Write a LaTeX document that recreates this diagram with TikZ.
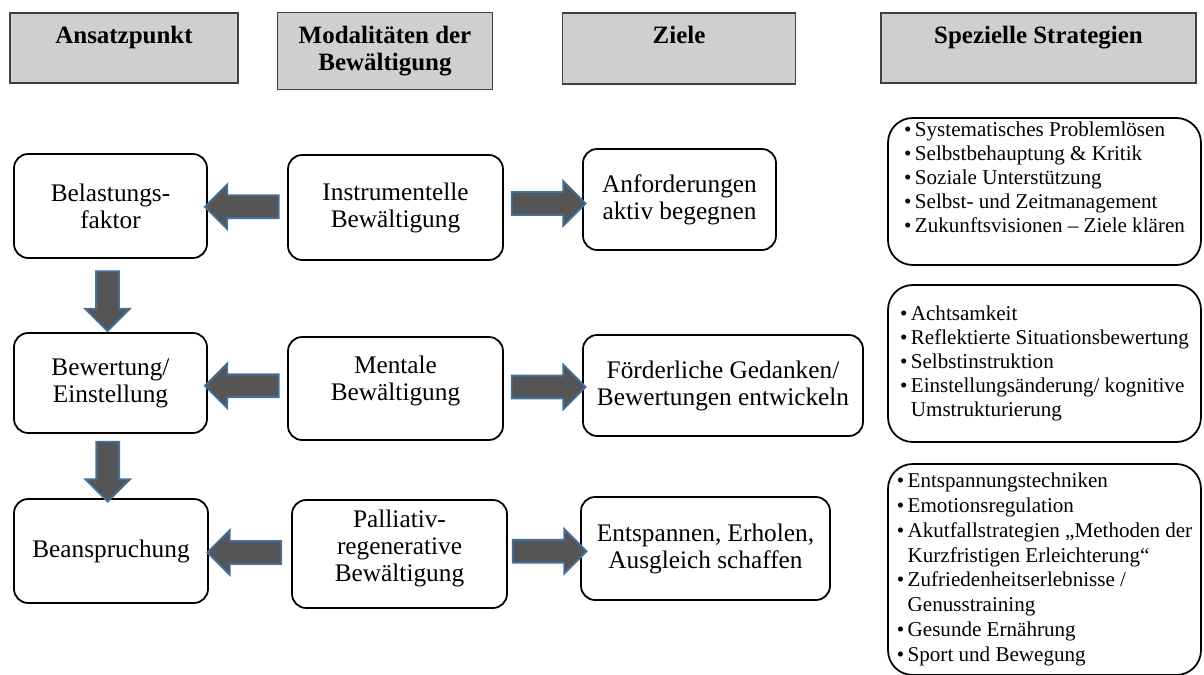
\documentclass[tikz,border=0pt]{standalone}
\usepackage{fontspec}
\setmainfont{Liberation Serif}
\usetikzlibrary{shapes.arrows,calc}
\definecolor{kopfgrau}{RGB}{208,206,206}
\definecolor{pfeilgrau}{RGB}{85,85,85}
\definecolor{pfeilblau}{RGB}{65,113,156}
\tikzset{
  kopf/.style={draw=black!75, line width=0.8pt, fill=kopfgrau, align=center, inner sep=0pt,
    font=\fontsize{14.2}{15.3}\selectfont\bfseries},
  kasten/.style={draw, line width=1pt, rounded corners=8pt, align=center, inner sep=0pt,
    font=\fontsize{14.4}{15.4}\selectfont},
  liste/.style={draw, line width=1pt, rounded corners=14pt, inner sep=0pt,
    font=\fontsize{12}{13.6}\selectfont},
  blockpfeil/.style={single arrow, fill=pfeilgrau, draw=pfeilblau, line width=1pt,
    inner xsep=0pt, inner ysep=0.21cm, single arrow head extend=0.22cm, minimum height=1.48cm},
}

\begin{document}
\begin{tikzpicture}[x=0.02cm, y=-0.02cm] % 1 Einheit = 1 Pixel
    \useasboundingbox (0,0) rectangle (1204,675);
    % Kopfzeile
    \node[kopf, minimum width=4.56cm, minimum height=1.4cm] (h1) at (124,48) {Ansatzpunkt\\~};
    \node[kopf, minimum width=4.3cm, minimum height=1.54cm] (h2) at (385,51) {Modalitäten der\\Bewältigung};
    \node[kopf, minimum width=4.66cm, minimum height=1.42cm] (h3) at (679,48.5) {Ziele\\~};
    \node[kopf, minimum width=6.3cm, minimum height=1.4cm] (h4) at (1038.5,48) {Spezielle Strategien\\~};
    % Ansatzpunkte
    \node[kasten, minimum width=3.86cm, minimum height=2.08cm] (bel) at (110.5,206) {Belastungs-\\faktor};
    \node[kasten, minimum width=3.86cm, minimum height=2.0cm] (bew) at (110.5,383) {Bewertung/\\Einstellung};
    \node[kasten, minimum width=3.88cm, minimum height=2.08cm] (bea) at (111,551) {Beanspruchung};
    % Modalitaeten
    \node[kasten, minimum width=4.3cm, minimum height=2.1cm] (ins) at (395.5,207.5) {Instrumentelle\\Bewältigung};
    \node[kasten, minimum width=4.3cm, minimum height=2.06cm] (men) at (395.5,388.5) {Mentale\\Bewältigung\\[-4pt]~};
    \node[kasten, minimum width=4.3cm, minimum height=2.16cm] (pal) at (399.5,554) {Palliativ-\\regenerative\\Bewältigung\\[-6.4pt]~};
    % Ziele
    \node[kasten, minimum width=3.86cm, minimum height=2.02cm] (anf) at (679.5,199.5) {Anforderungen\\aktiv begegnen};
    \node[kasten, minimum width=5.6cm, minimum height=2.02cm] (foe) at (723,385.5) {Förderliche Gedanken/\\Bewertungen entwickeln};
    \node[kasten, minimum width=4.98cm, minimum height=2.06cm] (ent) at (705.5,548.5) {Entspannen, Erholen,\\Ausgleich schaffen};
    % Strategien
    \node[liste, minimum width=6.26cm, minimum height=2.94cm] (s1) at (1044.5,191.5) {%
      \begin{tabular}{@{}l@{\,}l@{}}
        \textbullet & Systematisches Problemlösen\\
        \textbullet & Selbstbehauptung \& Kritik\\
        \textbullet & Soziale Unterstützung\\
        \textbullet & Selbst- und Zeitmanagement\\
        \textbullet & Zukunftsvisionen – Ziele klären\\
        &
      \end{tabular}};
    \node[liste, minimum width=6.26cm, minimum height=3.14cm] (s2) at (1044.5,363.5) {%
      \begin{tabular}{@{}l@{\,}l@{}}
        \textbullet & Achtsamkeit\\
        \textbullet & Reflektierte Situationsbewertung\\
        \textbullet & Selbstinstruktion\\
        \textbullet & Einstellungsänderung/ kognitive\\
        & Umstrukturierung
      \end{tabular}};
    \node[liste, minimum width=6.26cm, minimum height=4.22cm] (s3) at (1044.5,569.5) {%
      \fontsize{12}{14.2}\selectfont
      \begin{tabular}{@{}l@{\,}l@{}}
        \textbullet & Entspannungstechniken\\
        \textbullet & Emotionsregulation\\
        \textbullet & Akutfallstrategien „Methoden der\\
        & Kurzfristigen Erleichterung“\\
        \textbullet & Zufriedenheitserlebnisse /\\
        & Genusstraining\\
        \textbullet & Gesunde Ernährung\\
        \textbullet & Sport und Bewegung
      \end{tabular}};
    % Pfeile nach links
    \node[blockpfeil, rotate=180] (p1) at ($(bel.east)!.5!(ins.west)$) {};
    \node[blockpfeil, rotate=180] (p2) at ($(bew.east)!.5!(men.west)$) {};
    \node[blockpfeil, rotate=180] (p3) at ($(bea.east)!.5!(pal.west)$) {};
    % Pfeile nach rechts
    \node[blockpfeil] (p4) at ($(ins.east)!.5!(anf.west)$) {};
    \node[blockpfeil] (p5) at ($(men.east)!.5!(foe.west)$) {};
    \node[blockpfeil] (p6) at ($(pal.east)!.5!(ent.west)$) {};
    % Pfeile nach unten
    \node[blockpfeil, rotate=-90, minimum height=1.2cm] (p7) at ($(bel.south)!.5!(bew.north)+(-3,0)$) {};
    \node[blockpfeil, rotate=-90, minimum height=1.2cm] (p8) at ($(bew.south)!.5!(bea.north)+(-3,0)$) {};
\end{tikzpicture}
\end{document}
